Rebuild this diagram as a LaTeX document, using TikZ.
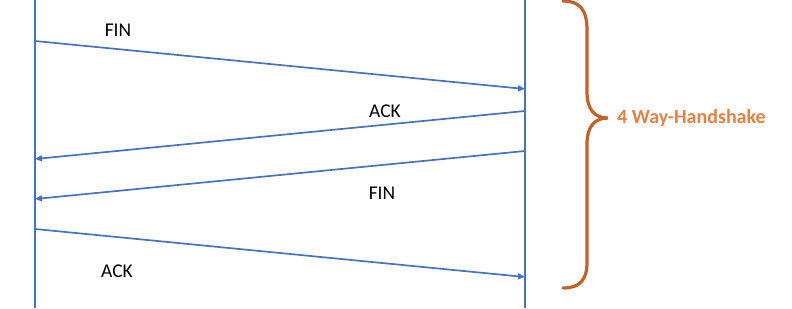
\documentclass[tikz,border=0pt]{standalone}
\usepackage{fontspec}
\setmainfont{Carlito}
\usepackage{xcolor}
\usetikzlibrary{arrows.meta, positioning}
\definecolor{lineblue}{HTML}{4472C4}
\definecolor{bracebrown}{HTML}{C0622A}
\definecolor{labelorange}{HTML}{E38042}
\begin{document}
\begin{tikzpicture}[x=1pt, y=-1pt,
    life/.style={lineblue, line width=2pt},
    msg/.style={-{Triangle[length=7pt, width=6pt]}, lineblue, line width=1.7pt},
    lbl/.style={font=\fontsize{19.5}{23}\selectfont, inner sep=0pt}]
  \useasboundingbox (0,0) rectangle (792,308);
  % lifelines
  \coordinate (ltop) at (35,0);
  \coordinate (lbot) at (35,308);
  \coordinate (rtop) at (525,0);
  \coordinate (rbot) at (525,308);
  \draw[life] (ltop) -- (lbot);
  \draw[life] (rtop) -- (rbot);
  % message end points
  \coordinate (fin1s) at (35,41);
  \coordinate (fin1e) at (525,89);
  \coordinate (ack1s) at (525,111);
  \coordinate (ack1e) at (35,159);
  \coordinate (fin2s) at (525,151);
  \coordinate (fin2e) at (35,199);
  \coordinate (ack2s) at (35,229);
  \coordinate (ack2e) at (525,277);
  \draw[msg] (fin1s) -- (fin1e);
  \draw[msg] (ack1s) -- (ack1e);
  \draw[msg] (fin2s) -- (fin2e);
  \draw[msg] (ack2s) -- (ack2e);
  \node[lbl] (finA) at (118,30) {FIN};
  \node[lbl] (ackA) at (385,111) {ACK};
  \node[lbl] (finB) at (382,193) {FIN};
  \node[lbl] (ackB) at (117,271) {ACK};
  % brace
  \coordinate (btop) at (563,1);
  \coordinate (btip) at (608,118);
  \coordinate (bbot) at (563,288);
  \draw[bracebrown, line width=3.2pt, line cap=round]
    (btop) .. controls (580,1) and (587,10) .. (587,30) -- (587,92)
    .. controls (587,110) and (595,118) .. (btip)
    .. controls (595,118) and (587,126) .. (587,144) -- (587,262)
    .. controls (587,280) and (580,288) .. (bbot);
  \node[lbl, anchor=west, text=labelorange, font=\fontsize{20}{24}\selectfont\bfseries,
        right=9pt of btip] (hs) {4 Way-Handshake};
\end{tikzpicture}
\end{document}
